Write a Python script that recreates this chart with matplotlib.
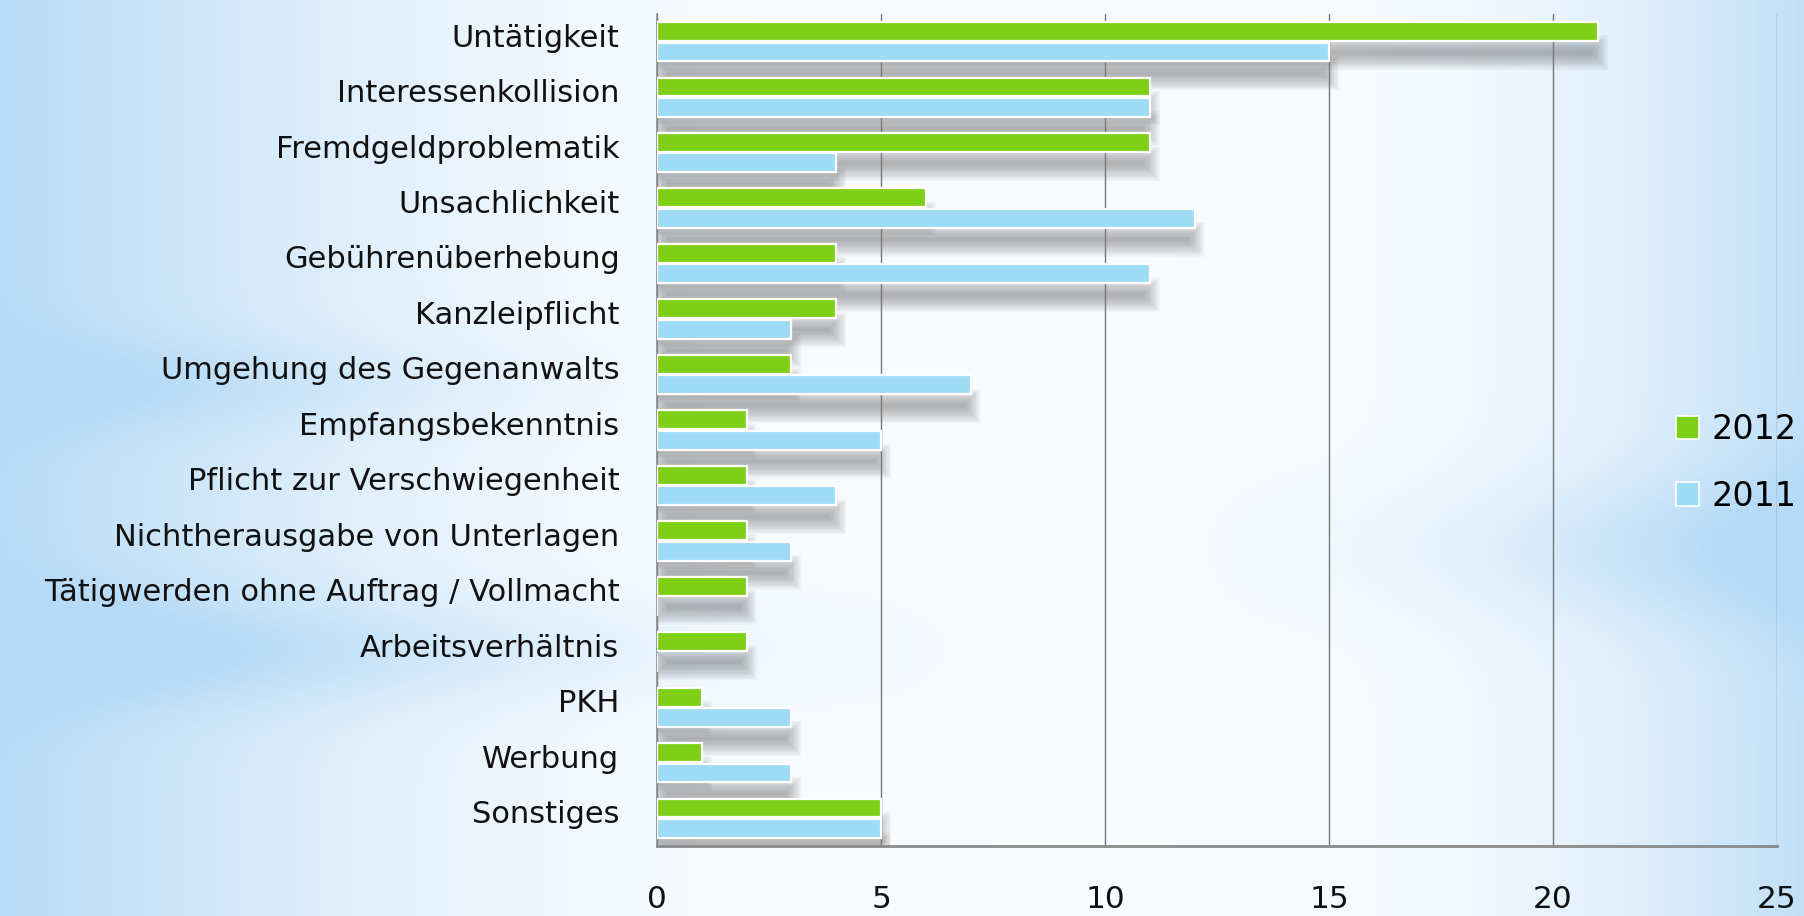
import numpy as np
import matplotlib
matplotlib.use("Agg")
import matplotlib.pyplot as plt
from matplotlib.patches import Patch

# ---- data ----
categories = ["Untätigkeit", "Interessenkollision", "Fremdgeldproblematik",
              "Unsachlichkeit", "Gebührenüberhebung", "Kanzleipflicht",
              "Umgehung des Gegenanwalts", "Empfangsbekenntnis",
              "Pflicht zur Verschwiegenheit", "Nichtherausgabe von Unterlagen",
              "Tätigwerden ohne Auftrag / Vollmacht", "Arbeitsverhältnis",
              "PKH", "Werbung", "Sonstiges"]
values_2012 = [21, 11, 11, 6, 4, 4, 3, 2, 2, 2, 2, 2, 1, 1, 5]
values_2011 = [15, 11, 4, 12, 11, 3, 7, 5, 4, 3, 0, 0, 3, 3, 5]
series_labels = ["2012", "2011"]
x_ticks = [0, 5, 10, 15, 20, 25]

GREEN = "#7ecf17"
BLUE = "#9edcf5"
FONT = "DejaVu Sans"

W, H, DPI = 1804, 916, 100
fig = plt.figure(figsize=(W / DPI, H / DPI), dpi=DPI)

# ---- background gradient ----
bg = fig.add_axes([0, 0, 1, 1], zorder=-10)
bg.set_axis_off()
xx, yy = np.meshgrid(np.linspace(0, 1, 600), np.linspace(0, 1, 300))
light = np.array([0.975, 0.988, 1.0])
blue = np.array([0.72, 0.86, 0.97])
w = np.clip(1 - xx / 0.42, 0, 1) ** 1.5
w = np.maximum(w, np.clip((xx - 0.72) / 0.28, 0, 1) ** 1.8 * 0.85)
band = np.exp(-((yy - 0.71) / 0.06) ** 2) * np.clip(1 - xx / 0.55, 0, 1) * 0.6
band2 = np.exp(-((yy - 0.60) / 0.08) ** 2) * np.clip((xx - 0.65) / 0.35, 0, 1) * 0.5
band3 = np.exp(-((yy - 0.42) / 0.05) ** 2) * np.clip(1 - xx / 0.4, 0, 1) * 0.4
w = np.clip(w + band + band2 + band3, 0, 1)
img = light[None, None, :] * (1 - w[..., None]) + blue[None, None, :] * w[..., None]
bg.imshow(img, extent=[0, 1, 0, 1], aspect="auto", origin="upper")
bg.set_xlim(0, 1)
bg.set_ylim(0, 1)

# ---- main axes ----
x0, x1 = 657, 1777
y_top, y_bot = 14, 846
ax = fig.add_axes([x0 / W, 1 - y_bot / H, (x1 - x0) / W, (y_bot - y_top) / H])
ax.patch.set_alpha(0)

n = len(categories)
pos = np.arange(n)
bar_h = 0.34
off = 0.185

# soft drop shadows
px_x = 25 / (x1 - x0)
px_y = n / (y_bot - y_top)
dy = 21 * px_y
dx = 2 * px_x
layers = 14
a = 1 - 0.52 ** (1 / layers)
for e in np.linspace(-8, 8, layers):
    for vals, yoff in ((values_2012, -off), (values_2011, off)):
        v = np.array(vals, dtype=float)
        widths = np.where(v > 0, v + 2 * e * px_x, 0)
        ax.barh(pos + yoff + dy, widths, left=dx - e * px_x,
                height=bar_h + 2 * e * px_y, color="#6e6e6e", alpha=a,
                linewidth=0, zorder=1)

b1 = ax.barh(pos - off, values_2012, height=bar_h, color=GREEN,
             edgecolor="white", linewidth=1.6, zorder=3, label=series_labels[0])
b2 = ax.barh(pos + off, values_2011, height=bar_h, color=BLUE,
             edgecolor="white", linewidth=1.6, zorder=3, label=series_labels[1])

ax.set_xlim(0, 25)
ax.set_ylim(n - 0.5, -0.5)
ax.set_xticks(x_ticks)
ax.set_xticklabels([str(t) for t in x_ticks], fontsize=22.5, family=FONT)
ax.set_yticks(pos - 0.12)
ax.set_yticklabels(categories, fontsize=22, family=FONT, color="#111111")
ax.tick_params(axis="x", length=0, pad=28, colors="#111111")
ax.tick_params(axis="y", length=0, pad=27)
ax.set_axisbelow("line")
ax.xaxis.grid(True, color="#777777", linewidth=1.0)
ax.yaxis.grid(False)
for s in ("top", "right"):
    ax.spines[s].set_visible(False)
ax.spines["left"].set_color("#8a8a8a")
ax.spines["left"].set_linewidth(1.2)
ax.spines["bottom"].set_color("#8a8a8a")
ax.spines["bottom"].set_linewidth(2.0)

# legend
handles = [Patch(facecolor=GREEN, edgecolor="white", linewidth=1.2),
           Patch(facecolor=BLUE, edgecolor="white", linewidth=1.2)]
fig.legend(handles, series_labels, loc="center left",
           bbox_to_anchor=(1676 / W, 1 - 463 / H), frameon=False,
           prop={"family": FONT, "size": 24}, handlelength=0.7,
           handleheight=0.7, handletextpad=0.35, labelspacing=1.0,
           borderaxespad=0, borderpad=0)

fig.savefig("out.png", dpi=DPI)
